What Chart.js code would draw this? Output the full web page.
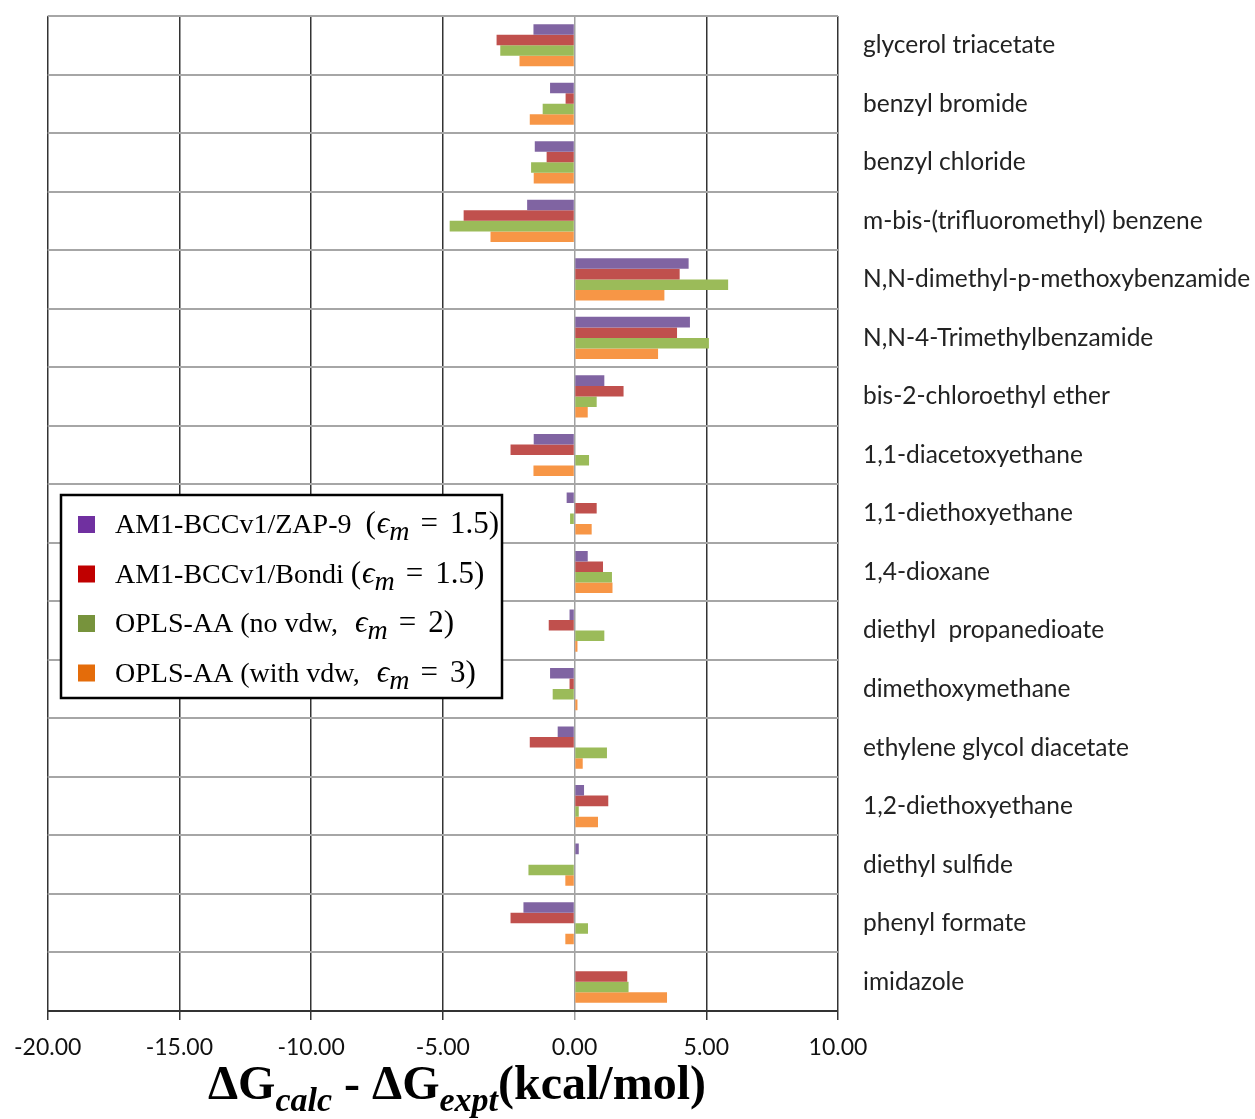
<!DOCTYPE html>
<html>
<head>
<meta charset="utf-8">
<script src="https://cdn.jsdelivr.net/npm/chart.js@4.4.1/dist/chart.umd.min.js"></script>
<style>
  body { margin: 0; background: #fff; }
</style>
</head>
<body>
<canvas id="grafica" width="1255" height="1119"></canvas>
<script>
// categorias y valores
const categories = ['glycerol triacetate', 'benzyl bromide', 'benzyl chloride', 'm-bis-(trifluoromethyl) benzene',
    'N,N-dimethyl-p-methoxybenzamide', 'N,N-4-Trimethylbenzamide', 'bis-2-chloroethyl ether', '1,1-diacetoxyethane',
    '1,1-diethoxyethane', '1,4-dioxane', 'diethyl  propanedioate', 'dimethoxymethane', 'ethylene glycol diacetate',
    '1,2-diethoxyethane', 'diethyl sulfide', 'phenyl formate', 'imidazole'];
const zap9 = [-1.56, -0.93, -1.51, -1.80, 4.33, 4.38, 1.13, -1.55, -0.30, 0.50, -0.19, -0.93, -0.64, 0.36, 0.16, -1.94, 0];
const bondi = [-2.96, -0.34, -1.06, -4.21, 3.99, 3.89, 1.86, -2.43, 0.84, 1.08, -0.98, -0.19, -1.70, 1.28, 0, -2.43, 2.00];
const oplsNoVdw = [-2.82, -1.21, -1.65, -4.74, 5.83, 5.10, 0.84, 0.55, -0.17, 1.42, 1.13, -0.83, 1.23, 0.16, -1.75, 0.51, 2.05];
const oplsVdw = [-2.09, -1.70, -1.55, -3.19, 3.41, 3.17, 0.50, -1.56, 0.65, 1.44, 0.11, 0.11, 0.31, 0.89, -0.35, -0.35, 3.51];
const xTicks = [-20, -15, -10, -5, 0, 5, 10];

const serif = "'Liberation Serif', 'Times New Roman', 'DejaVu Serif', serif";

// dibuja texto con tramos de distinta fuente (subindices y espacios extra)
const drawRich = (ctx, segs, x, y) => {
    segs.forEach(s => {
        ctx.font = s.f;
        x += s.pre || 0;
        ctx.fillText(s.t, x, y + (s.dy || 0));
        x += ctx.measureText(s.t).width + (s.post || 0);
    });
    return x;
};
const richWidth = (ctx, segs) => segs.reduce((w, s) => {
    ctx.font = s.f;
    return w + ctx.measureText(s.t).width + (s.pre || 0) + (s.post || 0);
}, 0);

// titulo del eje x
const tituloEje = {
    id: 'tituloEje',
    afterDraw(chart) {
        const ctx = chart.ctx;
        const big = 'bold 48px ' + serif, sub = 'italic bold 34px ' + serif;
        const segs = [
            { t: 'Δ', f: big }, { t: 'G', f: big }, { t: 'calc', f: sub, dy: 12 },
            { t: ' - ', f: big }, { t: 'Δ', f: big }, { t: 'G', f: big }, { t: 'expt', f: sub, dy: 12 },
            { t: '(kcal/mol)', f: big }
        ];
        ctx.save();
        ctx.fillStyle = '#000';
        ctx.textBaseline = 'alphabetic';
        const w = richWidth(ctx, segs);
        drawRich(ctx, segs, 457 - w / 2, 1099);
        ctx.restore();
    }
};

// leyenda con recuadro sobre el grafico
const leyenda = {
    id: 'leyenda',
    afterDraw(chart) {
        const ctx = chart.ctx;
        const reg = '28px ' + serif, mat = '31px ' + serif;
        const it = 'italic 31px ' + serif, itSub = 'italic 28px ' + serif;
        // texto + (ϵ_m = valor), con o sin parentesis de apertura
        const eps = (pre, val, abre, hueco) => [{ t: pre, f: reg }]
            .concat(abre ? [{ t: '(', f: mat }] : [])
            .concat([
                { t: 'ϵ', f: it, pre: hueco }, { t: 'm', f: itSub, dy: 7 },
                { t: '=', f: mat, pre: 11, post: 12 }, { t: val, f: mat }, { t: ')', f: mat }
            ]);
        const filas = [
            { c: '#7030A0', s: eps('AM1-BCCv1/ZAP-9  ', '1.5', true, 1) },
            { c: '#C00000', s: eps('AM1-BCCv1/Bondi ', '1.5', true, 1) },
            { c: '#77933C', s: eps('OPLS-AA (no vdw, ', '2', false, 10) },
            { c: '#E46C0A', s: eps('OPLS-AA (with vdw, ', '3', false, 10) }
        ];
        ctx.save();
        ctx.fillStyle = '#fff';
        ctx.fillRect(61, 495, 441, 203);
        ctx.strokeStyle = '#000';
        ctx.lineWidth = 2.5;
        ctx.strokeRect(61, 495, 441, 203);
        ctx.textBaseline = 'alphabetic';
        filas.forEach((f, i) => {
            const base = 533 + i * 49.5;
            ctx.fillStyle = f.c;
            ctx.fillRect(78, base - 17, 17, 17);
            ctx.fillStyle = '#000';
            drawRich(ctx, f.s, 115, base);
        });
        ctx.restore();
    }
};

const ctx = document.getElementById('grafica').getContext('2d');
const chart = new Chart(ctx, {
    type: 'bar',
    data: {
        labels: categories,
        datasets: [
            { label: 'AM1-BCCv1/ZAP-9', data: zap9, backgroundColor: '#8064A2' },
            { label: 'AM1-BCCv1/Bondi', data: bondi, backgroundColor: '#C0504D' },
            { label: 'OPLS-AA (no vdw)', data: oplsNoVdw, backgroundColor: '#9BBB59' },
            { label: 'OPLS-AA (with vdw)', data: oplsVdw, backgroundColor: '#F79646' }
        ]
    },
    options: {
        indexAxis: 'y',
        responsive: false,
        animation: false,
        layout: { padding: { left: 45, top: 16, right: 0, bottom: 0 } },
        datasets: { bar: { categoryPercentage: 0.72, barPercentage: 1.0 } },
        plugins: { legend: { display: false }, tooltip: { enabled: false } },
        scales: {
            x: {
                min: -20,
                max: 10,
                afterBuildTicks: (s) => { s.ticks = xTicks.map(v => ({ value: v })); },
                ticks: {
                    callback: (v) => Number(v).toFixed(2),
                    font: { family: 'Lato', size: 23 },
                    color: '#111',
                    padding: 14,
                    maxRotation: 0
                },
                grid: {
                    color: (c) => c.tick && c.tick.value === 0 ? '#a0a0a0' : '#333',
                    lineWidth: 1.5,
                    tickLength: 9
                },
                border: { color: '#333', width: 2 },
                afterFit: (s) => { s.height = 108; }
            },
            y: {
                position: 'right',
                ticks: {
                    font: { family: 'Lato', size: 24.5 },
                    color: '#222',
                    padding: 25,
                    crossAlign: 'near',
                    autoSkip: false
                },
                grid: { color: '#a6a6a6', lineWidth: 2, drawTicks: false },
                border: { display: false },
                afterFit: (s) => { s.width = 417; s.paddingTop = 0; s.paddingBottom = 0; }
            }
        }
    },
    plugins: [tituloEje, leyenda]
});
</script>
</body>
</html>
